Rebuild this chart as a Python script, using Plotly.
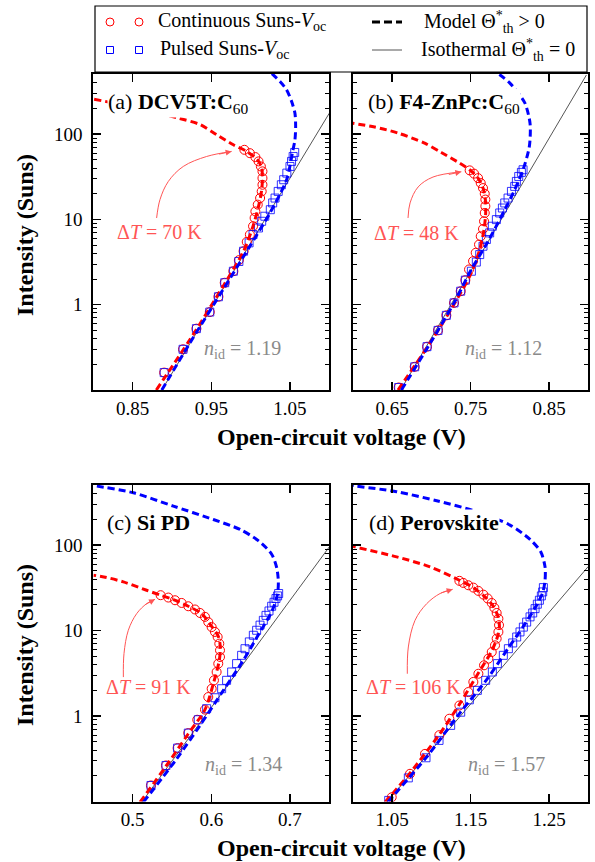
import math
import plotly.graph_objects as go

W, H = 595, 862
FONT = "Liberation Serif"

# ---------------- data ----------------
# Panel (a) DCV5T:C60
a_cont_v = [0.890, 0.914, 0.931, 0.948, 0.959, 0.967, 0.978, 0.985, 0.991, 0.995, 0.999, 1.003, 1.005,
            1.006, 1.009, 1.012, 1.014, 1.015, 1.015, 1.015, 1.013, 1.010, 1.006, 0.999, 0.992]
a_cont_i = [0.160, 0.300, 0.524, 0.820, 1.24, 1.81, 2.47, 3.33, 4.24, 5.45, 6.64, 8.32, 10.4,
            12.4, 14.9, 17.8, 21.3, 25.5, 30.5, 36.6, 41.8, 47.9, 53.8, 59.8, 65.5]
a_puls_v = [0.890, 0.914, 0.931, 0.948, 0.959, 0.967, 0.978, 0.985, 0.991, 0.998, 1.003, 1.010, 1.014,
            1.018, 1.025, 1.028, 1.031, 1.035, 1.039, 1.042, 1.046, 1.050, 1.052, 1.054, 1.056]
a_puls_i = [0.160, 0.300, 0.524, 0.820, 1.24, 1.81, 2.47, 3.21, 4.24, 5.31, 6.64, 7.94, 9.51,
            10.9, 13.0, 15.6, 17.8, 21.3, 25.5, 29.2, 34.9, 41.8, 47.9, 54.7, 61.0]
a_mcont_v = [0.880, 0.923, 0.965, 0.991, 1.003, 1.010, 1.014, 1.015, 1.0135, 1.008, 0.995, 0.978,
             0.957, 0.936, 0.908, 0.859, 0.800]
a_mcont_i = [0.100, 0.393, 1.65, 4.24, 8.32, 14.2, 22.3, 31.9, 41.8, 50.9, 62.7, 75.0,
             98.2, 129, 154, 201, 257]
a_mpuls_v = [0.887, 0.923, 0.965, 0.999, 1.0245, 1.0457, 1.0534, 1.0563, 1.0572, 1.0563, 1.0521,
             1.0458, 1.0373, 1.0267]
a_mpuls_i = [0.100, 0.359, 1.51, 4.85, 11.9, 29.2, 62.7, 85.7, 123, 176, 241, 330, 413, 516]
a_iso_v = [0.887, 1.100]
a_iso_i = [0.100, 176]

# Panel (b) F4-ZnPc:C60
b_cont_v = [0.6585, 0.6789, 0.6946, 0.7086, 0.7192, 0.7290, 0.7375, 0.7434, 0.7481, 0.7532, 0.7566,
            0.7608, 0.7630, 0.7659, 0.7672, 0.7681, 0.7689, 0.7689, 0.7681, 0.7659, 0.7630, 0.7596,
            0.7545, 0.7489]
b_cont_i = [0.107, 0.187, 0.322, 0.500, 0.750, 1.05, 1.44, 1.94, 2.59, 3.24, 4.06,
            5.07, 6.35, 7.73, 9.51, 11.9, 14.3, 17.1, 20.0, 23.3, 26.7, 30.5, 34.4, 37.6]
b_puls_v = [0.6585, 0.6789, 0.6946, 0.7086, 0.7192, 0.7290, 0.7375, 0.7434, 0.7511, 0.7574, 0.7617,
            0.7659, 0.7702, 0.7744, 0.7778, 0.7829, 0.7872, 0.7906, 0.7936, 0.7978, 0.8021, 0.8063,
            0.8084, 0.8114, 0.8148, 0.8169]
b_puls_i = [0.107, 0.187, 0.322, 0.500, 0.750, 1.05, 1.44, 1.94, 2.47, 3.16, 3.87,
            4.85, 5.81, 6.95, 8.32, 9.95, 11.9, 13.6, 15.6, 17.8, 21.3, 24.4, 27.9, 31.9, 35.6, 38.2]
b_mcont_v = [0.6576, 0.7001, 0.7290, 0.7511, 0.7617, 0.7672, 0.7693, 0.7689, 0.7659, 0.7596, 0.7489,
             0.7362, 0.7128, 0.6916, 0.6576, 0.6279, 0.600]
b_mcont_i = [0.100, 0.376, 1.01, 2.37, 4.44, 7.60, 11.9, 17.1, 23.3, 30.5, 38.2,
             45.7, 61.0, 78.3, 103, 121, 134]
b_mpuls_v = [0.6619, 0.7001, 0.7290, 0.7511, 0.7724, 0.7936, 0.8063, 0.8169, 0.8249, 0.8258, 0.8194,
             0.8126, 0.8004, 0.7876, 0.781]
b_mpuls_i = [0.100, 0.372, 1.05, 2.59, 5.55, 13.0, 22.3, 38.2, 71.6, 134, 230, 288, 394, 494, 540]
b_iso_v = [0.661, 0.8976]
b_iso_i = [0.100, 494]

# Panel (c) Si PD
c_cont_v = [0.5232, 0.5423, 0.5571, 0.5707, 0.5821, 0.5919, 0.5961, 0.6004, 0.6033, 0.6067, 0.6088,
            0.6110, 0.6110, 0.6101, 0.6080, 0.6046, 0.6004, 0.5961, 0.5919, 0.5856, 0.5792, 0.5707,
            0.5622, 0.5538, 0.5453, 0.5355]
c_cont_i = [0.154, 0.264, 0.422, 0.632, 0.906, 1.19, 1.67, 2.09, 2.62, 3.28, 4.11,
            4.92, 5.89, 7.05, 8.43, 9.66, 11.0, 12.6, 14.5, 16.1, 17.7, 19.3, 21.1, 22.7, 24.4, 26.0]
c_puls_v = [0.5232, 0.5423, 0.5571, 0.5707, 0.5834, 0.5940, 0.6046, 0.6131, 0.6194, 0.6258, 0.6321,
            0.6385, 0.6428, 0.6483, 0.6534, 0.6576, 0.6619, 0.6661, 0.6695, 0.6733, 0.6767, 0.6797,
            0.6822, 0.6843, 0.6856]
c_puls_i = [0.154, 0.264, 0.422, 0.632, 0.906, 1.22, 1.64, 2.09, 2.62, 3.28, 4.11,
            5.14, 6.15, 7.38, 8.83, 10.1, 11.6, 13.2, 15.1, 17.0, 19.3, 21.5, 23.8, 25.5, 27.2]
c_mcont_v = [0.5093, 0.5423, 0.5707, 0.5919, 0.6025, 0.6101, 0.6114, 0.6088, 0.6004, 0.5877, 0.5707,
             0.5517, 0.5355, 0.5177, 0.4881, 0.4669, 0.450]
c_mcont_i = [0.098, 0.259, 0.621, 1.19, 2.39, 4.50, 6.44, 8.59, 11.2, 15.8, 19.3,
             23.1, 26.0, 29.7, 37.2, 41.9, 44.6]
c_mpuls_v = [0.5135, 0.5559, 0.5856, 0.6153, 0.6407, 0.6619, 0.6767, 0.6839, 0.6852, 0.6831, 0.6767,
             0.6597, 0.6365, 0.6025, 0.5517, 0.5008, 0.4542, 0.450]
c_mpuls_i = [0.098, 0.316, 0.778, 2.00, 4.50, 9.66, 16.6, 26.0, 37.2, 54.8, 78.5,
             113, 153, 200, 287, 411, 492, 497]
c_iso_v = [0.5114, 0.750]
c_iso_i = [0.098, 95.7]

# Panel (d) Perovskite
d_cont_v = [1.0496, 1.0729, 1.0920, 1.1103, 1.1230, 1.1358, 1.1472, 1.1536, 1.1600, 1.1672, 1.1727,
            1.1770, 1.1812, 1.1833, 1.1855, 1.1863, 1.1855, 1.1833, 1.1804, 1.1770, 1.1719, 1.1664,
            1.1600, 1.1536, 1.1472, 1.1408, 1.1358]
d_cont_i = [0.112, 0.211, 0.361, 0.598, 0.931, 1.33, 1.91, 2.51, 3.13, 3.93, 4.70,
            5.62, 6.73, 8.07, 9.66, 11.6, 13.8, 16.1, 18.5, 21.1, 23.8, 26.4, 29.2, 31.9, 34.0, 36.2, 38.3]
d_puls_v = [1.0458, 1.0708, 1.0933, 1.1099, 1.1247, 1.1375, 1.1485, 1.1587, 1.1693, 1.1778, 1.1842,
            1.1918, 1.1982, 1.2037, 1.2088, 1.2130, 1.2173, 1.2215, 1.2258, 1.2292, 1.2322, 1.2351,
            1.2377, 1.2402, 1.2419, 1.2428]
d_puls_i = [0.103, 0.189, 0.325, 0.519, 0.778, 1.11, 1.55, 2.00, 2.62, 3.28, 4.11,
            5.14, 6.15, 7.18, 8.43, 9.66, 11.0, 12.6, 14.5, 16.1, 18.1, 20.4, 22.7, 25.5, 28.4, 31.9]
d_mcont_v = [1.0411, 1.0729, 1.1103, 1.1358, 1.1600, 1.1770, 1.1842, 1.1868, 1.1851, 1.1791, 1.1685,
             1.1536, 1.1358, 1.0984, 1.0559, 1.0029, 1.000]
d_mcont_i = [0.098, 0.215, 0.610, 1.37, 3.19, 5.78, 8.43, 11.0, 14.5, 19.3, 24.8,
             31.9, 38.9, 55.8, 73.1, 95.7, 97.5]
d_mpuls_v = [1.0445, 1.0933, 1.1366, 1.1706, 1.1982, 1.2173, 1.2322, 1.2419, 1.2449, 1.2449, 1.2394,
             1.2258, 1.2003, 1.1578, 1.1069, 1.0559, 1.0050, 1.000]
d_mpuls_i = [0.098, 0.325, 1.09, 2.67, 6.27, 11.2, 18.5, 27.9, 38.9, 55.8, 83.8,
             117, 172, 247, 332, 423, 492, 501]
d_iso_v = [1.0432, 1.300]
d_iso_i = [0.098, 56.4]

# tick labels
a_xticks, a_xlabels = [0.85, 0.95, 1.05], ["0.85", "0.95", "1.05"]
b_xticks, b_xlabels = [0.65, 0.75, 0.85], ["0.65", "0.75", "0.85"]
c_xticks, c_xlabels = [0.5, 0.6, 0.7], ["0.5", "0.6", "0.7"]
d_xticks, d_xlabels = [1.05, 1.15, 1.25], ["1.05", "1.15", "1.25"]
y_ticks, y_labels = [1, 10, 100], ["1", "10", "100"]

names = ["(a) <b>DCV5T:C</b><sub>60</sub>", "(b) <b>F4-ZnPc:C</b><sub>60</sub>",
         "(c) <b>Si PD</b>", "(d) <b>Perovskite</b>"]
delta_t = ["70", "48", "91", "106"]
n_id = ["1.19", "1.12", "1.34", "1.57"]
legend_labels = ["Continuous Suns-<i>V</i><sub>oc</sub>", "Pulsed Suns-<i>V</i><sub>oc</sub>",
                 "Model Θ<sup>*</sup><sub>th</sub> > 0", "Isothermal Θ<sup>*</sup><sub>th</sub> = 0"]

# ---------------- layout geometry (pixels / annotation positions) ----------------
frames = [(93.4, 329.3, 74, 390), (352.75, 588.3, 74, 390),
          (93.4, 329.3, 485, 801.5), (352.75, 588.3, 485, 801.5)]
xranges = [[0.80, 1.10], [0.60, 0.90], [0.45, 0.75], [1.00, 1.30]]
label_pos = [(0.056, 0.907), (0.062, 0.907), (0.053, 0.881), (0.063, 0.881)]
label_bg = ["white", "white", "rgba(0,0,0,0)", "white"]
dt_pos = [(0.282, 0.501), (0.270, 0.498), (0.233, 0.361), (0.260, 0.361)]
nid_pos = [(0.634, 0.127), (0.638, 0.127), (0.635, 0.115), (0.651, 0.115)]
# curved arrow paths (annotation decoration) and head offsets
arrows = [
    ([0.8804, 0.8847, 0.8953, 0.9143, 0.9440, 0.9758], [10.4, 17.1, 27.9, 41.8, 54.7, 62.7], (-14, 3)),
    ([0.6704, 0.6730, 0.6832, 0.7022, 0.7383], [10.4, 15.6, 24.0, 31.4, 36.2], (-14, 3)),
    ([0.4881, 0.4889, 0.4944, 0.5050, 0.5177, 0.5284], [2.86, 5.38, 10.1, 15.8, 20.7, 23.3], (-11, 6)),
    ([1.0695, 1.0708, 1.0793, 1.0942, 1.1112, 1.1273], [3.13, 6.44, 13.2, 20.7, 27.2, 30.5], (-13, 4)),
]

panels = [
    dict(cont=(a_cont_v, a_cont_i), puls=(a_puls_v, a_puls_i), mcont=(a_mcont_v, a_mcont_i),
         mpuls=(a_mpuls_v, a_mpuls_i), iso=(a_iso_v, a_iso_i), xt=(a_xticks, a_xlabels)),
    dict(cont=(b_cont_v, b_cont_i), puls=(b_puls_v, b_puls_i), mcont=(b_mcont_v, b_mcont_i),
         mpuls=(b_mpuls_v, b_mpuls_i), iso=(b_iso_v, b_iso_i), xt=(b_xticks, b_xlabels)),
    dict(cont=(c_cont_v, c_cont_i), puls=(c_puls_v, c_puls_i), mcont=(c_mcont_v, c_mcont_i),
         mpuls=(c_mpuls_v, c_mpuls_i), iso=(c_iso_v, c_iso_i), xt=(c_xticks, c_xlabels)),
    dict(cont=(d_cont_v, d_cont_i), puls=(d_puls_v, d_puls_i), mcont=(d_mcont_v, d_mcont_i),
         mpuls=(d_mpuls_v, d_mpuls_i), iso=(d_iso_v, d_iso_i), xt=(d_xticks, d_xlabels)),
]

RED = "#ff0000"
BLUE = "#0000ff"
SQ_COLOR = "rgba(0,0,255,0.8)"
DT_COLOR = "#ff5555"
GRAY_TXT = "#8a8a8a"
ISO_COLOR = "#555555"
DASH = "7px,4px"

minor_vals = [m * 10.0 ** e for e in (-1, 0, 1, 2) for m in range(2, 10) if m * 10.0 ** e <= 500]

fig = go.Figure()
annotations = []
shapes = []
layout = {}

for k, p in enumerate(panels):
    xa = "x" if k == 0 else f"x{k+1}"
    ya = "y" if k == 0 else f"y{k+1}"
    l, r, t, b = frames[k]
    common = dict(xaxis=xa, yaxis=ya, showlegend=False, hoverinfo="skip")
    fig.add_trace(go.Scatter(x=p["iso"][0], y=p["iso"][1], mode="lines",
                             line=dict(color=ISO_COLOR, width=1), **common))
    fig.add_trace(go.Scatter(x=p["cont"][0], y=p["cont"][1], mode="markers",
                             marker=dict(symbol="circle-open", size=9, color=RED, line=dict(width=1)),
                             **common))
    fig.add_trace(go.Scatter(x=p["puls"][0], y=p["puls"][1], mode="markers",
                             marker=dict(symbol="square-open", size=8, color=SQ_COLOR,
                                         line=dict(width=1)), **common))
    fig.add_trace(go.Scatter(x=p["mcont"][0], y=p["mcont"][1], mode="lines",
                             line=dict(color=RED, width=3, dash=DASH, shape="spline", smoothing=0.8),
                             **common))
    fig.add_trace(go.Scatter(x=p["mpuls"][0], y=p["mpuls"][1], mode="lines",
                             line=dict(color=BLUE, width=3, dash=DASH, shape="spline", smoothing=0.8),
                             **common))
    av, ai, (hx, hy) = arrows[k]
    fig.add_trace(go.Scatter(x=av, y=ai, mode="lines",
                             line=dict(color=DT_COLOR, width=1, shape="spline"), **common))
    annotations.append(dict(x=av[-1], y=math.log10(ai[-1]), xref=xa, yref=ya, text="",
                            showarrow=True, ax=hx, ay=hy, arrowhead=2, arrowsize=1.2,
                            arrowwidth=1, arrowcolor=DT_COLOR))

    layout["xaxis" if k == 0 else f"xaxis{k+1}"] = dict(
        domain=[l / W, r / W], range=xranges[k], anchor=ya, automargin=False,
        tickmode="array", tickvals=p["xt"][0], ticktext=p["xt"][1],
        ticks="inside", ticklen=8, tickwidth=1.5, tickcolor="black",
        showline=True, linewidth=2, linecolor="black", mirror="allticks",
        showgrid=False, zeroline=False, tickfont=dict(family=FONT, size=19, color="black"),
        ticklabelstandoff=0)
    layout["yaxis" if k == 0 else f"yaxis{k+1}"] = dict(
        domain=[1 - b / H, 1 - t / H], type="log", range=[-1, 2.705], anchor=xa, automargin=False,
        tickmode="array", tickvals=y_ticks, ticktext=y_labels,
        ticks="inside", ticklen=8, tickwidth=1.5, tickcolor="black",
        minor=dict(tickmode="array", tickvals=minor_vals, ticks="inside", ticklen=4,
                   tickwidth=1, tickcolor="black", showgrid=False),
        showline=True, linewidth=2, linecolor="black", mirror="allticks",
        showgrid=False, zeroline=False, tickfont=dict(family=FONT, size=19, color="black"),
        ticklabelstandoff=5, showticklabels=(k in (0, 2)))

    dom_x, dom_y = f"{xa} domain", f"{ya} domain"
    annotations.append(dict(x=label_pos[k][0], y=label_pos[k][1], xref=dom_x, yref=dom_y,
                            text=names[k], showarrow=False, xanchor="left", yanchor="middle",
                            bgcolor=label_bg[k], borderpad=0,
                            font=dict(family=FONT, size=22, color="black")))
    annotations.append(dict(x=dt_pos[k][0], y=dt_pos[k][1], xref=dom_x, yref=dom_y,
                            text=f"Δ<i>T</i> = {delta_t[k]} K", showarrow=False,
                            xanchor="center", yanchor="middle",
                            font=dict(family=FONT, size=20, color=DT_COLOR)))
    annotations.append(dict(x=nid_pos[k][0], y=nid_pos[k][1], xref=dom_x, yref=dom_y,
                            text=f"<i>n</i><sub>id</sub> = {n_id[k]}", showarrow=False,
                            xanchor="center", yanchor="middle",
                            font=dict(family=FONT, size=20, color=GRAY_TXT)))

# axis titles
title_font = dict(family=FONT, size=24, color="black")
for py in (437, 848):
    annotations.append(dict(x=341 / W, y=1 - py / H, xref="paper", yref="paper",
                            text="<b>Open-circuit voltage (V)</b>", showarrow=False,
                            xanchor="center", yanchor="middle", font=title_font))
for py in (235, 645):
    annotations.append(dict(x=25 / W, y=1 - py / H, xref="paper", yref="paper",
                            text="<b>Intensity (Suns)</b>", showarrow=False, textangle=-90,
                            xanchor="center", yanchor="middle", font=title_font))

# ---------------- legend (drawn as a framed key) ----------------
def px(xp):
    return xp / W

def py_(yp):
    return 1 - yp / H

shapes.append(dict(type="rect", xref="paper", yref="paper", x0=px(95), x1=px(587),
                   y0=py_(72), y1=py_(6), line=dict(color="black", width=1.2),
                   fillcolor="white", layer="above"))
row_y = [22, 50]
for cx in (110, 139):
    shapes.append(dict(type="circle", xref="paper", yref="paper", xsizemode="pixel",
                       ysizemode="pixel", xanchor=px(cx), yanchor=py_(row_y[0]),
                       x0=-4, x1=4, y0=-4, y1=4, line=dict(color=RED, width=1), layer="above"))
    shapes.append(dict(type="rect", xref="paper", yref="paper", xsizemode="pixel",
                       ysizemode="pixel", xanchor=px(cx), yanchor=py_(row_y[1]),
                       x0=-3.5, x1=3.5, y0=-3.5, y1=3.5, line=dict(color=BLUE, width=1),
                       layer="above"))
shapes.append(dict(type="line", xref="paper", yref="paper", x0=px(372), x1=px(402),
                   y0=py_(row_y[0]), y1=py_(row_y[0]),
                   line=dict(color="black", width=3, dash="8px,4px"), layer="above"))
shapes.append(dict(type="line", xref="paper", yref="paper", x0=px(372), x1=px(402),
                   y0=py_(row_y[1]), y1=py_(row_y[1]),
                   line=dict(color=ISO_COLOR, width=1), layer="above"))
leg_font = dict(family=FONT, size=20, color="black")
for text, xl, yr in zip(legend_labels, (156, 158, 422, 419), (row_y[0], row_y[1], row_y[0], row_y[1])):
    annotations.append(dict(x=px(xl), y=py_(yr), xref="paper", yref="paper", text=text,
                            showarrow=False, xanchor="left", yanchor="middle", font=leg_font))

fig.update_layout(
    width=W, height=H, margin=dict(l=0, r=0, t=0, b=0, autoexpand=False),
    paper_bgcolor="white", plot_bgcolor="white", showlegend=False,
    font=dict(family=FONT, size=19, color="black"),
    annotations=annotations, shapes=shapes,
    **layout,
)

fig.write_html("out.html", config={"displayModeBar": False, "staticPlot": True},
               post_script="document.body.style.margin='0px';")
